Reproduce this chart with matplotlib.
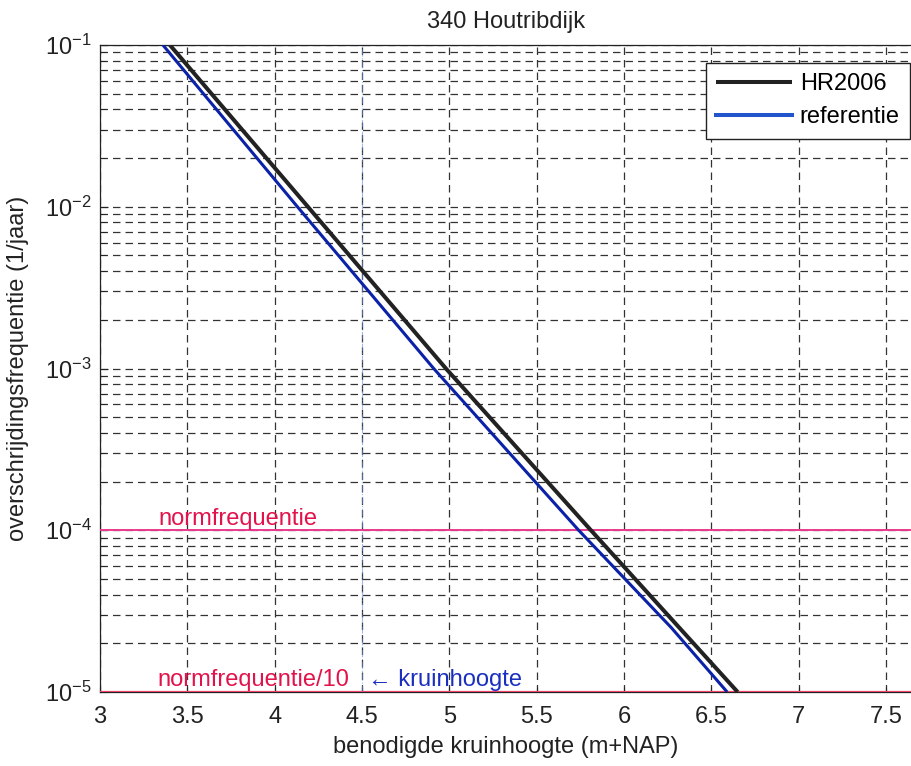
import matplotlib
matplotlib.use("Agg")
import matplotlib.pyplot as plt
import numpy as np

plt.rcParams['font.family'] = ['Liberation Sans', 'DejaVu Sans']
plt.rcParams['mathtext.fontset'] = 'custom'
plt.rcParams['mathtext.rm'] = 'Liberation Sans'
plt.rcParams['mathtext.it'] = 'Liberation Sans:italic'
plt.rcParams['mathtext.bf'] = 'Liberation Sans:bold'
plt.rcParams['mathtext.default'] = 'regular'

# Data
freq_hr2006 = [1e-1, 1e-2, 1e-3, 1e-4, 1e-5]
height_hr2006 = [3.40, 4.19, 4.98, 5.81, 6.65]

freq_ref = [1e-1, 1e-2, 1e-3, 1e-4, 2.5e-5, 1e-5]
height_ref = [3.36, 4.13, 4.91, 5.74, 6.27, 6.59]

norm_freq = 1e-4
norm_freq_10 = 1e-5
kruinhoogte = 4.5

xticks = [3, 3.5, 4, 4.5, 5, 5.5, 6, 6.5, 7, 7.5]
xticklabels = ['3', '3.5', '4', '4.5', '5', '5.5', '6', '6.5', '7', '7.5']

FS = 17
W, H = 912, 766
fig = plt.figure(figsize=(W / 100, H / 100), dpi=100)
ax = fig.add_axes([100 / W, 1 - 692 / H, 1 - 100 / W, (692 - 45) / H])

ax.set_yscale('log')
ax.set_xlim(3, 3 + 812 / 174.7)
ax.set_ylim(1e-5, 1e-1)

grid_kw = dict(color='#333333', linestyle=(0, (6, 4)), linewidth=0.9)
ax.grid(True, which='major', axis='both', **grid_kw)
ax.grid(True, which='minor', axis='y', **grid_kw)

ax.axhline(norm_freq, color='#ec3a8c', linewidth=1.4, zorder=3)
ax.axhline(norm_freq_10, color='#ef4468', linewidth=1.6, zorder=3)
ax.axvline(kruinhoogte, color='#6688dd', linestyle='-.', linewidth=0.8, alpha=0.6, zorder=3)

ax.plot(height_hr2006, freq_hr2006, color='#222222', linewidth=2.9, label='HR2006', zorder=5, solid_capstyle='butt')
ax.plot(height_ref, freq_ref, color='#0b22a8', linewidth=2.2, zorder=6, solid_capstyle='butt')
ax.plot([], [], color='#2255cc', linewidth=2.9, label='referentie')

ax.text(3.332, norm_freq * 1.01, 'normfrequentie', color='#e2124a', fontsize=FS,
        ha='left', va='bottom', zorder=7)
ax.text(3.326, norm_freq_10 * 1.01, 'normfrequentie/10', color='#e2124a', fontsize=FS,
        ha='left', va='bottom', zorder=7)
ax.text(4.534, norm_freq_10 * 1.01, '\u2190 kruinhoogte', color='#1a2fbf', fontsize=FS,
        ha='left', va='bottom', zorder=7, family=['Liberation Sans', 'DejaVu Sans'])

ax.set_xticks(xticks)
ax.set_xticklabels(xticklabels)
ax.tick_params(axis='both', which='both', direction='in', labelsize=FS, colors='#222222')
ax.tick_params(axis='x', pad=10)
ax.tick_params(axis='y', which='major', pad=6, length=6)
ax.tick_params(axis='y', which='minor', length=4)

ax.spines['right'].set_visible(False)
for s in ['left', 'bottom', 'top']:
    ax.spines[s].set_color('#222222')
    ax.spines[s].set_linewidth(0.9)

ax.set_title('340 Houtribdijk', fontsize=FS, color='#222222', pad=12)
ax.set_xlabel('benodigde kruinhoogte (m+NAP)', fontsize=FS, color='#222222', labelpad=6)
ax.set_ylabel('overschrijdingsfrequentie (1/jaar)', fontsize=FS, color='#222222', labelpad=11)

leg = ax.legend(loc='upper right', bbox_to_anchor=(910 / W, 1 - 63 / H),
                bbox_transform=fig.transFigure, borderaxespad=0, fontsize=FS,
                fancybox=False, framealpha=1, edgecolor='#222222',
                handlelength=3.2, handletextpad=0.35, labelspacing=0.48,
                borderpad=0.43)
leg.get_frame().set_linewidth(1.0)
leg.set_zorder(10)

fig.savefig('out.png', dpi=100)
